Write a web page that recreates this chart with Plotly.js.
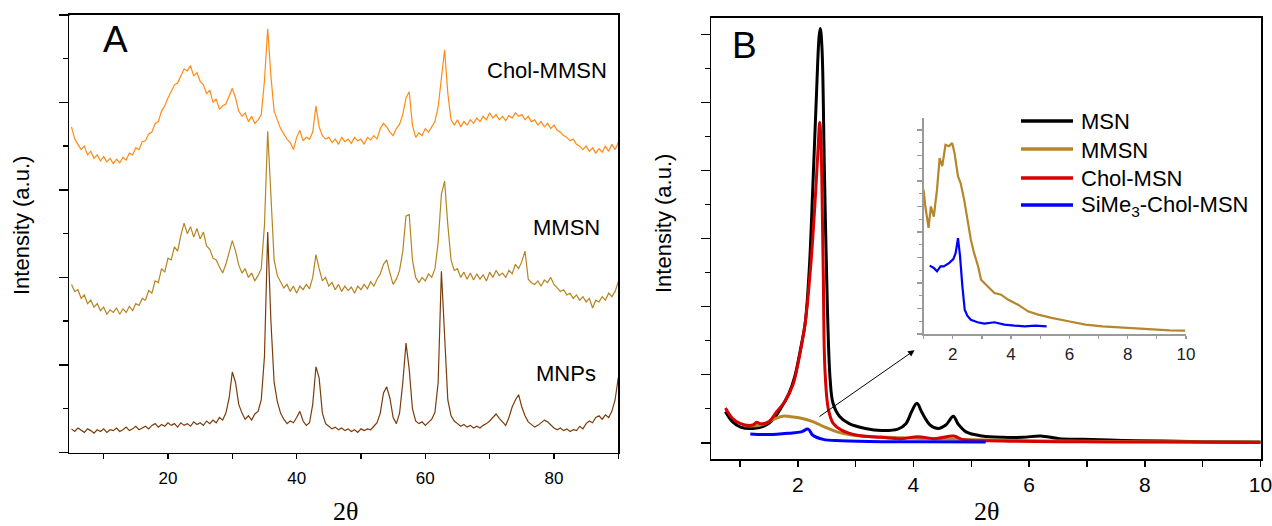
<!DOCTYPE html>
<html><head><meta charset="utf-8">
<script src="https://cdn.plot.ly/plotly-3.0.1.min.js"></script>
<style>html,body{margin:0;padding:0;background:#fff}#chart{width:1272px;height:526px}</style>
</head><body><div id="chart"></div>
<script>
// ---------- Panel A (wide-angle XRD), offset intensities on a shared 2θ grid ----------
const twoThetaA = [5,5.5,6,6.5,7,7.5,8,8.5,9,9.5,10,10.5,11,11.5,12,12.5,13,13.5,14,14.5,15,15.5,16,16.5,17,17.5,18,18.5,19,19.5,
 20,20.5,21,21.5,22,22.5,23,23.5,24,24.5,25,25.5,26,26.5,27,27.5,28,28.5,29,29.5,30,30.5,31,31.5,32,32.5,33,33.5,34,34.5,
 35,35.5,36,36.5,37,37.5,38,38.5,39,39.5,40,40.5,41,41.5,42,42.5,43,43.5,44,44.5,45,45.5,46,46.5,47,47.5,48,48.5,49,49.5,
 50,50.5,51,51.5,52,52.5,53,53.5,54,54.5,55,55.5,56,56.5,57,57.5,58,58.5,59,59.5,60,60.5,61,61.5,62,62.5,63,63.5,64,64.5,
 65,65.5,66,66.5,67,67.5,68,68.5,69,69.5,70,70.5,71,71.5,72,72.5,73,73.5,74,74.5,75,75.5,76,76.5,77,77.5,78,78.5,79,79.5,
 80,80.5,81,81.5,82,82.5,83,83.5,84,84.5,85,85.5,86,86.5,87,87.5,88,88.5,89,89.5,90];
const mnpY = [0.27,0.24,0.28,0.25,0.23,0.27,0.25,0.22,0.26,0.24,0.27,0.23,0.26,0.25,0.28,0.24,0.26,0.29,0.25,0.27,0.3,0.26,0.28,0.3,0.27,0.31,0.33,0.29,0.32,0.3,
 0.34,0.31,0.33,0.29,0.34,0.31,0.33,0.3,0.35,0.32,0.34,0.31,0.36,0.33,0.37,0.34,0.4,0.37,0.45,0.62,0.92,0.8,0.55,0.45,0.38,0.42,0.37,0.44,0.47,0.6,
 1.1,2.52,1.5,0.8,0.58,0.45,0.38,0.33,0.36,0.34,0.4,0.47,0.36,0.31,0.34,0.55,0.98,0.85,0.45,0.33,0.3,0.27,0.29,0.26,0.28,0.25,0.27,0.24,0.26,0.23,
 0.27,0.25,0.27,0.26,0.3,0.34,0.45,0.68,0.75,0.62,0.4,0.33,0.45,0.8,1.25,0.95,0.5,0.36,0.33,0.35,0.31,0.34,0.38,0.46,0.8,2.07,1.4,0.6,0.42,0.36,
 0.33,0.3,0.32,0.29,0.31,0.28,0.3,0.28,0.31,0.33,0.36,0.4,0.44,0.39,0.35,0.31,0.4,0.52,0.6,0.66,0.52,0.42,0.35,0.32,0.29,0.31,0.34,0.37,0.35,0.31,
 0.28,0.26,0.28,0.25,0.27,0.24,0.26,0.25,0.3,0.27,0.33,0.36,0.34,0.4,0.42,0.38,0.43,0.4,0.47,0.6,0.86];
const mmsnAY = [1.92,1.84,1.86,1.76,1.8,1.7,1.74,1.66,1.7,1.62,1.66,1.58,1.63,1.6,1.65,1.58,1.64,1.6,1.67,1.62,1.7,1.68,1.76,1.74,1.85,1.82,1.96,1.94,2.1,2.06,
 2.22,2.2,2.35,2.3,2.48,2.62,2.5,2.58,2.46,2.56,2.44,2.52,2.36,2.32,2.22,2.2,2.12,2.05,2.15,2.3,2.42,2.3,2.14,2.05,2.1,2.0,2.05,1.96,2.02,2.1,
 2.6,3.67,2.9,2.2,2.02,1.95,1.88,1.92,1.84,1.9,1.82,1.9,1.86,1.92,1.87,2.0,2.26,2.1,1.96,2.0,1.9,1.94,1.86,1.92,1.84,1.9,1.85,1.89,1.82,1.9,
 1.86,1.92,1.87,1.95,1.9,1.98,2.04,2.15,2.2,2.05,1.92,1.98,2.08,2.3,2.7,2.72,2.2,2.0,1.94,2.0,1.96,2.04,2.0,2.1,2.4,2.95,3.1,2.6,2.2,2.08,
 2.1,2.0,2.06,1.98,2.05,1.97,2.04,1.98,2.03,1.96,2.06,2.0,2.08,2.02,2.05,2.0,2.08,2.04,2.15,2.1,2.18,2.3,1.98,1.94,1.92,1.96,1.9,1.97,1.94,2.0,
 1.92,1.88,1.84,1.86,1.8,1.82,1.76,1.8,1.74,1.78,1.72,1.76,1.65,1.74,1.72,1.78,1.74,1.82,1.78,1.84,1.95];
const cholMmsnY = [3.72,3.58,3.52,3.46,3.5,3.4,3.44,3.36,3.4,3.33,3.38,3.32,3.36,3.3,3.35,3.31,3.37,3.34,3.42,3.4,3.48,3.46,3.55,3.56,3.64,3.66,3.76,3.78,3.9,3.96,
 4.05,4.12,4.2,4.22,4.3,4.38,4.36,4.42,4.3,4.34,4.24,4.2,4.1,4.14,4.0,4.04,3.92,3.96,3.98,4.08,4.16,4.05,3.9,3.84,3.88,3.78,3.84,3.76,3.8,3.86,
 4.25,4.84,4.3,3.9,3.8,3.7,3.64,3.58,3.54,3.46,3.6,3.68,3.56,3.6,3.58,3.66,3.96,3.72,3.62,3.58,3.6,3.54,3.58,3.52,3.6,3.55,3.58,3.53,3.6,3.56,
 3.58,3.52,3.6,3.57,3.62,3.58,3.7,3.76,3.72,3.66,3.62,3.7,3.75,3.86,4.05,4.12,3.74,3.6,3.65,3.62,3.7,3.66,3.72,3.78,3.95,4.3,4.6,4.1,3.8,3.74,
 3.8,3.72,3.78,3.74,3.8,3.76,3.82,3.78,3.84,3.8,3.88,3.82,3.86,3.8,3.84,3.79,3.85,3.82,3.88,3.84,3.86,3.8,3.84,3.78,3.8,3.74,3.78,3.72,3.76,3.7,
 3.74,3.68,3.66,3.62,3.6,3.56,3.58,3.52,3.5,3.46,3.5,3.44,3.48,3.42,3.47,3.43,3.5,3.44,3.52,3.46,3.54];

// ---------- Panel B (small-angle XRD) ----------
const msnX = [0.75,0.87,1.01,1.22,1.43,1.57,1.71,1.85,1.95,2.06,2.13,2.2,2.26,2.32,2.37,2.39,2.42,2.46,2.51,2.56,2.61,2.72,2.89,3.17,3.45,3.73,3.87,3.97,4.06,4.15,4.29,4.43,4.56,4.69,4.77,4.91,5.19,5.54,5.89,6.2,6.52,6.93,7.63,8.33,9.02,10];
const msnY = [0.46,0.31,0.23,0.21,0.25,0.34,0.51,0.73,0.98,1.43,1.77,2.56,3.75,5.04,5.98,6.09,5.78,4.05,2.07,0.93,0.58,0.39,0.28,0.21,0.18,0.2,0.28,0.46,0.58,0.44,0.26,0.21,0.26,0.39,0.28,0.16,0.1,0.08,0.08,0.1,0.06,0.05,0.035,0.025,0.015,0.01];
const mmsnBX = [1.08,1.36,1.57,1.74,1.92,2.06,2.26,2.47,2.68,2.96,3.31,3.8,4.49,5.26,6.5,8,10];
const mmsnBY = [0.25,0.26,0.34,0.39,0.38,0.36,0.31,0.23,0.16,0.11,0.09,0.074,0.054,0.04,0.025,0.015,0.01];
const cholMsnX = [0.75,0.87,1.01,1.22,1.29,1.36,1.5,1.64,1.78,1.92,2.02,2.13,2.23,2.3,2.35,2.38,2.4,2.44,2.47,2.53,2.61,2.75,3.03,3.45,3.8,4.08,4.36,4.7,4.84,5.54,6.93,8.33,10];
const cholMsnY = [0.51,0.36,0.28,0.26,0.3,0.28,0.31,0.46,0.61,0.86,1.23,1.77,2.66,3.55,4.3,4.71,4.45,2.56,1.08,0.49,0.29,0.19,0.11,0.08,0.06,0.09,0.06,0.1,0.05,0.025,0.015,0.01,0.005];
const simeX = [1.18,1.5,1.85,2.06,2.18,2.26,2.44,2.75,3.45,4.15,5.25];
const simeY = [0.13,0.12,0.14,0.16,0.2,0.11,0.05,0.03,0.015,0.015,0.01];

// ---------- Inset (zoom of MMSN and SiMe3-Chol-MSN) ----------
const insMmsnX = [1.0,1.06,1.17,1.25,1.35,1.46,1.55,1.64,1.75,1.87,1.98,2.06,2.18,2.27,2.39,2.5,2.62,2.73,2.87,2.97,3.2,3.43,3.66,3.89,4.24,4.58,4.93,5.39,5.97,6.55,7.13,7.7,8.28,8.86,9.44,9.97];
const insMmsnY = [5.66,5.0,4.16,5.0,4.6,5.66,6.9,6.58,7.42,7.36,7.49,7.1,6.18,5.92,5.27,4.48,3.7,3.18,2.65,2.13,1.87,1.61,1.54,1.35,1.15,0.89,0.76,0.63,0.5,0.37,0.3,0.26,0.2,0.17,0.14,0.13];
const insSimeX = [1.21,1.35,1.46,1.58,1.69,1.87,2.02,2.1,2.18,2.25,2.33,2.41,2.5,2.62,2.85,3.08,3.43,3.77,4.12,4.47,4.82,5.22];
const insSimeY = [2.68,2.59,2.46,2.65,2.65,2.78,2.94,3.18,3.76,3.05,1.87,0.95,0.72,0.56,0.46,0.41,0.46,0.37,0.33,0.3,0.33,0.3];

const legendNames = ['MSN','MMSN','Chol-MSN','SiMe<sub>3</sub>-Chol-MSN'];
const labelsA = ['Chol-MMSN','MMSN','MNPs'];
const ticksAx = [20,40,60,80];
const ticksBx = [2,4,6,8,10];

// ---------- colours ----------
const cMnp='#7a3c0c', cMmsnA='#b5841e', cChol='#ff8a14';
const cMsn='#000000', cMmsnB='#b5862a', cRed='#d90000', cBlue='#0000ff';

const W=1272,H=526;
const fx=p=>p/W, fy=p=>1-p/H;
const FONT='Liberation Sans, Arial, sans-serif';

const traces=[
 {x:twoThetaA,y:mnpY,xaxis:'x',yaxis:'y',mode:'lines',line:{color:cMnp,width:1.2},showlegend:false},
 {x:twoThetaA,y:mmsnAY,xaxis:'x',yaxis:'y',mode:'lines',line:{color:cMmsnA,width:1.2},showlegend:false},
 {x:twoThetaA,y:cholMmsnY,xaxis:'x',yaxis:'y',mode:'lines',line:{color:cChol,width:1.2},showlegend:false},
 {x:msnX,y:msnY,xaxis:'x2',yaxis:'y2',mode:'lines',line:{color:cMsn,width:3,shape:'spline'},showlegend:false},
 {x:mmsnBX,y:mmsnBY,xaxis:'x2',yaxis:'y2',mode:'lines',line:{color:cMmsnB,width:3,shape:'spline'},showlegend:false},
 {x:cholMsnX,y:cholMsnY,xaxis:'x2',yaxis:'y2',mode:'lines',line:{color:cRed,width:3,shape:'spline'},showlegend:false},
 {x:simeX,y:simeY,xaxis:'x2',yaxis:'y2',mode:'lines',line:{color:cBlue,width:3,shape:'spline'},showlegend:false},
 {x:insMmsnX,y:insMmsnY,xaxis:'x3',yaxis:'y3',mode:'lines',line:{color:cMmsnB,width:2.2},showlegend:false},
 {x:insSimeX,y:insSimeY,xaxis:'x3',yaxis:'y3',mode:'lines',line:{color:cBlue,width:2.2},showlegend:false}
];

const frame={showline:true,linecolor:'#000',linewidth:1.5,mirror:true,showgrid:false,zeroline:false,ticks:'outside',tickcolor:'#000',tickwidth:1.5};
const steps=(a,b,s)=>{const r=[];for(let v=a;v<=b+1e-9;v+=s)r.push(+v.toFixed(3));return r;};

const layout={
 width:W,height:H,margin:{l:0,r:0,t:0,b:0},paper_bgcolor:'#fff',plot_bgcolor:'rgba(0,0,0,0)',
 font:{family:FONT,color:'#000'},showlegend:false,
 xaxis:Object.assign({},frame,{domain:[fx(69.3),fx(618.3)],range:[4.66,90],anchor:'y',tickvals:ticksAx,ticklen:5,
   tickfont:{size:17},ticklabelstandoff:5,minor:{tickvals:[10,30,50,70,90],ticklen:5,ticks:'outside',tickcolor:'#000',tickwidth:1.5}}),
 yaxis:Object.assign({},frame,{domain:[fy(452.5),fy(14.8)],range:[0,5],anchor:'x',tickvals:[0,1,2,3,4,5],ticklen:9,showticklabels:false,
   minor:{tickvals:[0.5,1.5,2.5,3.5,4.5],ticklen:5,ticks:'outside',tickcolor:'#000',tickwidth:1.5}}),
 xaxis2:Object.assign({},frame,{domain:[fx(711),fx(1261)],range:[0.5,10.01],anchor:'y2',tickvals:ticksBx,ticklen:6,
   tickfont:{size:21},ticklabelstandoff:0,ticklabeloverflow:'allow',minor:{tickvals:[1,3,5,7,9],ticklen:6,ticks:'outside',tickcolor:'#000',tickwidth:1.5}}),
 yaxis2:Object.assign({},frame,{domain:[fy(459.3),fy(17.7)],range:[-0.243,6.247],anchor:'x2',tickvals:[0,1,2,3,4,5,6],ticklen:9,showticklabels:false,
   minor:{tickvals:[0.5,1.5,2.5,3.5,4.5,5.5],ticklen:5,ticks:'outside',tickcolor:'#000',tickwidth:1.5}}),
 xaxis3:{domain:[fx(923.6),fx(1186)],range:[1,10],anchor:'y3',showline:true,linecolor:'#9a9a9a',linewidth:2,showgrid:false,zeroline:false,
   ticks:'outside',ticklen:3,tickcolor:'#9a9a9a',tickwidth:1.2,tickvals:ticksBx,tickfont:{size:17,color:'#222'},ticklabelstandoff:1,
   minor:{tickvals:[1,3,5,7,9],ticklen:3,ticks:'outside',tickcolor:'#9a9a9a'}},
 yaxis3:{domain:[fy(334),fy(118)],range:[0,8.47],anchor:'x3',showline:true,linecolor:'#9a9a9a',linewidth:2,showgrid:false,zeroline:false,
   ticks:'outside',ticklen:5,tickcolor:'#9a9a9a',tickwidth:1.2,tickvals:steps(0,8,1),showticklabels:false,
   minor:{tickvals:steps(0.5,8,1),ticklen:3,ticks:'outside',tickcolor:'#9a9a9a'}},
 shapes:[
   {type:'line',xref:'paper',yref:'paper',x0:fx(60),x1:fx(70),y0:fy(14.8),y1:fy(14.8),line:{color:'#000',width:1.5}}
 ],
 annotations:[]
};

const A=layout.annotations;
const pap=(x,y,text,opt)=>Object.assign({xref:'paper',yref:'paper',x:fx(x),y:fy(y),text:text,showarrow:false,xanchor:'center',yanchor:'middle'},opt||{});
A.push(pap(21,226,'Intensity (a.u.)',{textangle:-90,font:{size:22,family:FONT}}));
A.push(pap(663,224,'Intensity (a.u.)',{textangle:-90,font:{size:22,family:FONT}}));
A.push(pap(345,511,'2θ',{font:{size:26,family:'Liberation Serif, Times New Roman, serif'}}));
A.push(pap(986,511,'2θ',{font:{size:26,family:'Liberation Serif, Times New Roman, serif'}}));
A.push(pap(116,39,'A',{font:{size:37,family:FONT}}));
A.push(pap(744,46,'B',{font:{size:37,family:FONT}}));
A.push(pap(547,70,labelsA[0],{font:{size:22,family:FONT}}));
A.push(pap(566,227,labelsA[1],{font:{size:22,family:FONT}}));
A.push(pap(566,373,labelsA[2],{font:{size:22,family:FONT}}));
A.push({xref:'x2',yref:'y2',axref:'x2',ayref:'y2',x:4.02,y:1.36,ax:2.35,ay:0.37,text:'',showarrow:true,arrowhead:2,arrowsize:1.3,arrowwidth:1,arrowcolor:'#000'});
const legColors=[cMsn,cMmsnB,cRed,cBlue];
const legY=[121,149,178,205];
legendNames.forEach((n,i)=>{
  layout.shapes.push({type:'line',xref:'paper',yref:'paper',x0:fx(1021),x1:fx(1073),y0:fy(legY[i]),y1:fy(legY[i]),line:{color:legColors[i],width:3.5}});
  A.push(pap(1079,legY[i]+1,n,{xanchor:'left',font:{size:22,family:FONT}}));
});

Plotly.newPlot('chart',traces,layout,{displayModeBar:false,staticPlot:true});
</script></body></html>
